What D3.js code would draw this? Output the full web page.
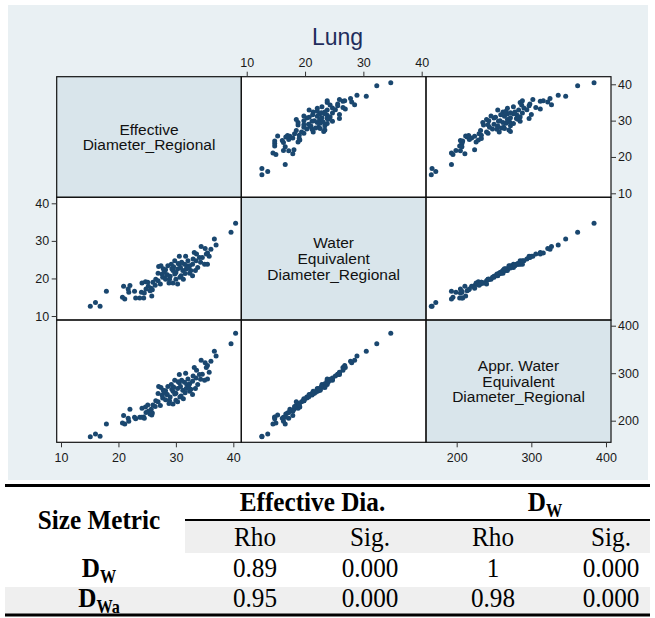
<!DOCTYPE html>
<html>
<head>
<meta charset="utf-8">
<script src="https://cdn.jsdelivr.net/npm/d3@7"></script>
<style>
  body { margin: 0; background: #fff; }
  svg { display: block; }
</style>
</head>
<body>
<svg id="chart" width="655" height="618"></svg>
<script>
// Regional lung size metrics, one entry per patient
const effectiveDia = [
  15.1, 16.0, 16.8, 17.9, 20.7, 21.1, 20.9, 22.0, 21.7, 21.8,
  23.0, 23.7, 24.4, 25.8, 24.0, 24.1, 24.7, 25.1, 25.2, 25.7,
  25.9, 25.5, 24.8, 26.5, 26.9, 27.3, 27.0, 26.9, 27.7, 28.2,
  28.4, 28.9, 28.8, 29.5, 30.3, 28.6, 29.2, 29.8, 29.5, 30.0,
  30.3, 30.6, 30.6, 30.9, 31.2, 31.5, 31.7, 31.8, 32.1, 32.4,
  32.6, 32.9, 33.2, 33.5, 33.6, 33.4, 33.8, 34.4, 34.6, 35.1,
  35.0, 35.5, 35.3, 36.1, 35.5, 36.7, 37.0, 39.6, 40.4, 28.2,
  29.8, 30.7, 31.9, 29.0, 27.6, 31.3, 34.1, 32.4, 30.0, 26.0,
  27.4, 32.9, 34.3, 35.8, 28.0, 29.3, 30.8, 31.0, 29.6, 28.5,
  31.6, 30.4, 32.2, 27.8, 26.4, 33.0, 24.5, 22.8
];
const waterEqDia = [
  12.6, 13.6, 12.6, 16.6, 15.0, 14.5, 17.9, 18.1, 17.2, 16.3,
  14.8, 14.8, 14.8, 15.3, 16.3, 18.8, 19.1, 19.0, 17.9, 17.4,
  17.0, 16.7, 17.2, 19.8, 19.4, 18.5, 23.2, 21.4, 20.3, 19.8,
  20.9, 19.8, 18.8, 18.8, 18.5, 23.4, 23.8, 24.7, 22.1, 21.6,
  22.5, 23.8, 25.9, 20.7, 22.1, 23.8, 25.9, 22.5, 24.7, 21.4,
  22.1, 23.8, 26.9, 24.7, 26.5, 22.1, 22.9, 28.5, 25.6, 28.0,
  23.8, 23.8, 26.5, 27.8, 26.8, 30.5, 28.9, 32.3, 34.7, 22.3,
  21.2, 20.3, 23.4, 20.6, 21.2, 19.8, 25.6, 23.4, 19.8, 19.0,
  23.4, 20.7, 24.3, 25.9, 21.8, 22.6, 22.9, 24.3, 23.1, 21.0,
  21.3, 24.0, 22.8, 22.6, 18.2, 25.2, 16.1, 16.6
];
const apprWaterEqDia = [
  166, 172, 167, 193, 195, 193, 211, 224, 205, 199,
  204, 207, 208, 212, 207, 226, 229, 233, 220, 224,
  216, 214, 217, 242, 240, 232, 272, 257, 248, 244,
  255, 242, 236, 235, 240, 272, 276, 285, 262, 258,
  268, 280, 297, 252, 264, 281, 300, 268, 288, 262,
  266, 283, 312, 290, 306, 268, 276, 327, 298, 322,
  285, 288, 312, 325, 316, 346, 336, 362, 384, 263,
  256, 250, 276, 250, 254, 246, 297, 278, 243, 233,
  270, 255, 287, 302, 260, 266, 272, 285, 271, 255,
  259, 282, 272, 264, 230, 294, 205, 207
];

const variableLabels = [
  ["Effective", "Diameter_Regional"],
  ["Water", "Equivalent", "Diameter_Regional"],
  ["Appr. Water", "Equivalent", "Diameter_Regional"]
];
const axisTicks = [[10, 20, 30, 40], [10, 20, 30, 40], [200, 300, 400]];
const chartTitle = "Lung";

// Spearman correlation summary
const groupHeaders = [["Effective Dia.", ""], ["D", "W"]];
const statHeaders = ["Rho", "Sig.", "Rho", "Sig."];
const rowMetrics = [["D", "W"], ["D", "Wa"]];
const rhoValues = [["0.89", "0.000", "1", "0.000"], ["0.95", "0.000", "0.98", "0.000"]];

const svg = d3.select("#chart");
const sans = "'Liberation Sans', Arial, Helvetica, sans-serif";
const serif = "'Liberation Serif', 'Times New Roman', serif";
const navy = "#1a476f";

// graph region
svg.append("rect").attr("x", 8).attr("y", 5).attr("width", 640).attr("height", 475)
  .attr("fill", "#e9f0f3");

svg.append("text").attr("x", 337.5).attr("y", 44.5).attr("text-anchor", "middle")
  .attr("font-family", sans).attr("font-size", 23).attr("fill", "#1f2d5c")
  .text(chartTitle);

const colEdges = [56.7, 241.3, 426, 611];
const rowEdges = [76.7, 197.3, 320, 442.3];
const series = [effectiveDia, waterEqDia, apprWaterEqDia];
const xDomains = [[9.25, 41.39], [9.07, 40.74], [158.9, 406.7]];
const yDomains = [[8.9, 42.09], [8.94, 41.6], [154.5, 412]];

const xScales = series.map((s, j) => d3.scaleLinear().domain(xDomains[j]).range([colEdges[j], colEdges[j + 1]]));
const yScales = series.map((s, i) => d3.scaleLinear().domain(yDomains[i]).range([rowEdges[i + 1], rowEdges[i]]));

const idx = d3.range(effectiveDia.length);

for (let i = 0; i < 3; i++) {
  for (let j = 0; j < 3; j++) {
    const x0 = colEdges[j], x1 = colEdges[j + 1], y0 = rowEdges[i], y1 = rowEdges[i + 1];
    const cell = svg.append("g");
    cell.append("rect").attr("x", x0).attr("y", y0).attr("width", x1 - x0).attr("height", y1 - y0)
      .attr("fill", i === j ? "#d9e5eb" : "#ffffff");
    if (i === j) {
      const lines = variableLabels[i];
      const lh = 15.8;
      const cy = (y0 + y1) / 2;
      const t = cell.append("text").attr("text-anchor", "middle")
        .attr("font-family", sans).attr("font-size", 15.5).attr("fill", "#111");
      lines.forEach((ln, k) => {
        t.append("tspan").attr("x", (x0 + x1) / 2)
          .attr("y", cy + (k - (lines.length - 1) / 2) * lh + 5.5).text(ln);
      });
    } else {
      cell.selectAll("circle").data(idx).join("circle")
        .attr("cx", k => xScales[j](series[j][k]))
        .attr("cy", k => yScales[i](series[i][k]))
        .attr("r", 2.5)
        .attr("fill", navy);
    }
  }
}

// panel frames
for (let i = 0; i < 3; i++) {
  for (let j = 0; j < 3; j++) {
    svg.append("rect").attr("x", colEdges[j]).attr("y", rowEdges[i])
      .attr("width", colEdges[j + 1] - colEdges[j]).attr("height", rowEdges[i + 1] - rowEdges[i])
      .attr("fill", "none").attr("stroke", "#111").attr("stroke-width", 1.2);
  }
}

function styleAxis(g) {
  g.select(".domain").remove();
  g.selectAll(".tick line").attr("stroke", "#333").attr("stroke-width", 1);
  g.selectAll(".tick text").attr("font-family", sans).attr("font-size", 12.5).attr("fill", "#1a1a1a");
}

svg.append("g").attr("transform", `translate(0,${rowEdges[0]})`)
  .call(d3.axisTop(xScales[1]).tickValues(axisTicks[1]).tickSize(5).tickPadding(5)).call(styleAxis);
svg.append("g").attr("transform", `translate(0,${rowEdges[3]})`)
  .call(d3.axisBottom(xScales[0]).tickValues(axisTicks[0]).tickSize(5).tickPadding(6)).call(styleAxis);
svg.append("g").attr("transform", `translate(0,${rowEdges[3]})`)
  .call(d3.axisBottom(xScales[2]).tickValues(axisTicks[2]).tickSize(5).tickPadding(6)).call(styleAxis);
svg.append("g").attr("transform", `translate(${colEdges[0]},0)`)
  .call(d3.axisLeft(yScales[1]).tickValues(axisTicks[1]).tickSize(5).tickPadding(2.5)).call(styleAxis);
svg.append("g").attr("transform", `translate(${colEdges[3]},0)`)
  .call(d3.axisRight(yScales[0]).tickValues(axisTicks[0]).tickSize(5).tickPadding(2)).call(styleAxis);
svg.append("g").attr("transform", `translate(${colEdges[3]},0)`)
  .call(d3.axisRight(yScales[2]).tickValues(axisTicks[2]).tickSize(5).tickPadding(2)).call(styleAxis);

// correlation table
const tbl = svg.append("g").attr("font-family", serif).attr("fill", "#000");
const colX = [255, 370, 493, 611];
const groupX = [312.5, 545];
const tLeft = 5, tRight = 650;

tbl.append("rect").attr("x", 185).attr("y", 521).attr("width", tRight - 185).attr("height", 32).attr("fill", "#efefef");
tbl.append("rect").attr("x", tLeft).attr("y", 587).attr("width", tRight - tLeft).attr("height", 27).attr("fill", "#efefef");
tbl.append("line").attr("x1", tLeft).attr("x2", tRight).attr("y1", 485.5).attr("y2", 485.5).attr("stroke", "#000").attr("stroke-width", 3);
tbl.append("line").attr("x1", 185).attr("x2", tRight).attr("y1", 520).attr("y2", 520).attr("stroke", "#000").attr("stroke-width", 2);
tbl.append("line").attr("x1", tLeft).attr("x2", tRight).attr("y1", 615).attr("y2", 615).attr("stroke", "#000").attr("stroke-width", 3);

// narrow serif type, as set in the source table
function subText(x, y, main, sub, weight) {
  const t = tbl.append("text").attr("transform", `translate(${x},${y}) scale(0.9,1)`)
    .attr("text-anchor", "middle").attr("font-size", 28).attr("font-weight", weight);
  t.append("tspan").text(main);
  if (sub) t.append("tspan").attr("font-size", 18).attr("dy", 6).text(sub);
  return t;
}

subText(99, 529, "Size Metric", "", "bold");
groupHeaders.forEach((h, k) => subText(groupX[k], 511, h[0], h[1], "bold"));
statHeaders.forEach((h, k) => subText(colX[k], 546, h, "", "normal"));
rowMetrics.forEach((m, r) => {
  const y = 577 + r * 30;
  subText(99, y, m[0], m[1], "bold");
  rhoValues[r].forEach((v, k) => subText(colX[k], y, v, "", "normal"));
});
</script>
</body>
</html>
